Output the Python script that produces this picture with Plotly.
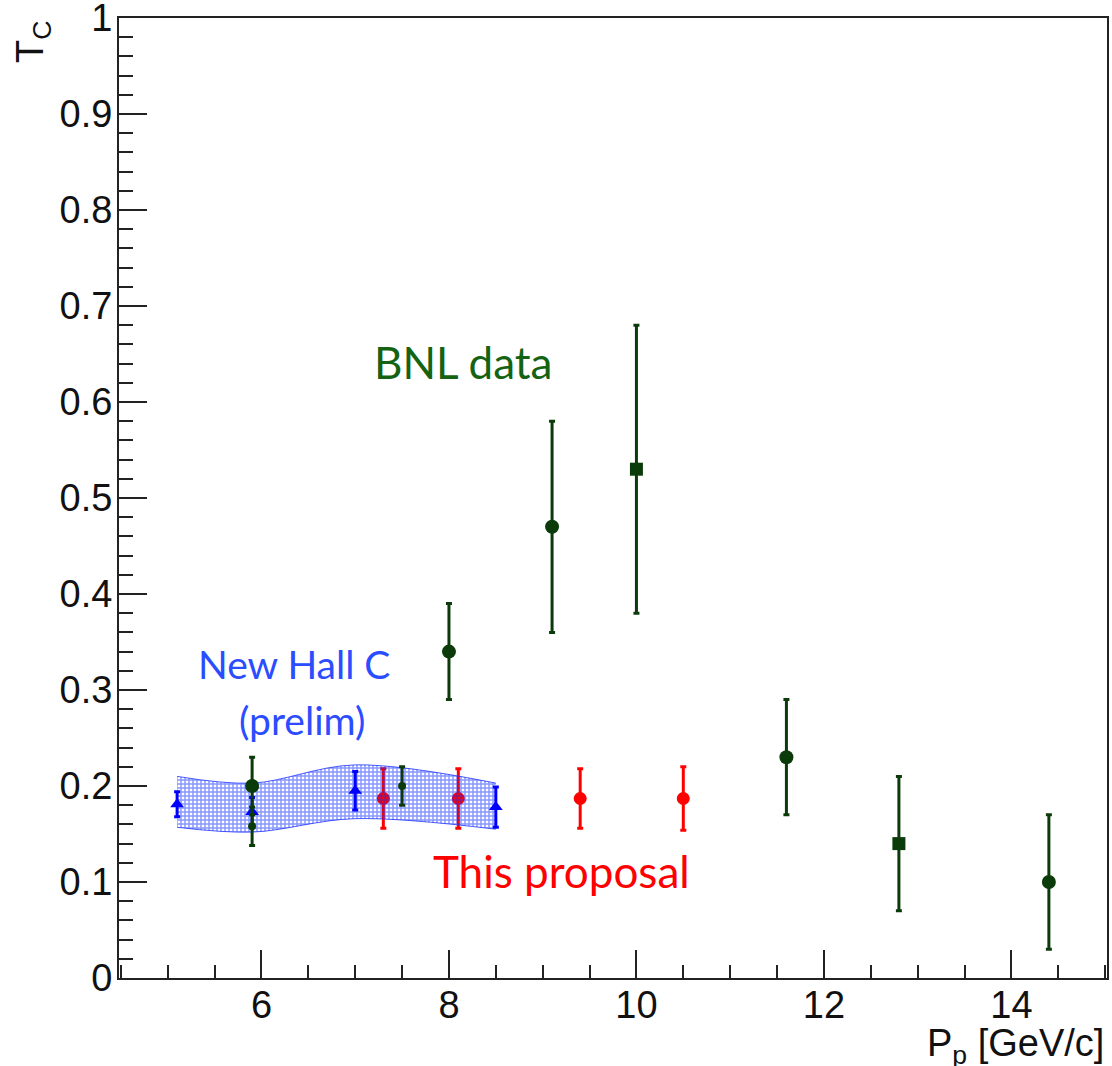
import plotly.graph_objects as go

# BNL data (circles)
bnl_x = [5.9, 8.0, 9.1, 11.6, 14.4]
bnl_y = [0.20, 0.34, 0.47, 0.23, 0.10]
bnl_err = [0.03, 0.05, 0.11, 0.06, 0.07]
# BNL data (squares)
bnlsq_x = [10.0, 12.8]
bnlsq_y = [0.53, 0.14]
bnlsq_err = [0.15, 0.07]
# small dark points
small_x = [5.9, 7.5]
small_y = [0.158, 0.20]
small_err = [0.02, 0.02]
# New Hall C (prelim)
hc_x = [5.1, 5.9, 7.0, 8.5]
hc_y = [0.181, 0.173, 0.195, 0.178]
hc_err = [0.013, 0.015, 0.02, 0.021]
# band
band_x = [5.1, 5.9, 7.0, 8.5]
band_hi = [0.210, 0.203, 0.222, 0.203]
band_lo = [0.157, 0.152, 0.166, 0.155]
# This proposal
prop_x = [7.3, 8.1, 9.4, 10.5]
prop_y = [0.187, 0.187, 0.187, 0.187]
prop_err = [0.031, 0.031, 0.031, 0.033]

# tick labels
y_tickvals = [0, 0.1, 0.2, 0.3, 0.4, 0.5, 0.6, 0.7, 0.8, 0.9, 1.0]
y_ticktext = ["0", "0.1", "0.2", "0.3", "0.4", "0.5", "0.6", "0.7", "0.8", "0.9", "1"]
x_tickvals = [6, 8, 10, 12, 14]
x_ticktext = ["6", "8", "10", "12", "14"]

GREEN = "#0b3b0b"
BLUE = "#0000ff"
RED = "#ff0000"

fig = go.Figure()

fig.add_trace(go.Scatter(
    x=prop_x, y=prop_y, mode="markers",
    marker=dict(symbol="circle", size=13, color=RED),
    error_y=dict(type="data", array=prop_err, color=RED, thickness=3, width=3),
    showlegend=False))

fig.add_trace(go.Scatter(
    x=band_x, y=band_lo, mode="lines",
    line=dict(shape="spline", width=1, color="rgba(30,50,255,0.8)"),
    showlegend=False, hoverinfo="skip"))
fig.add_trace(go.Scatter(
    x=band_x, y=band_hi, mode="lines", fill="tonexty",
    line=dict(shape="spline", width=1, color="rgba(30,50,255,0.8)"),
    fillcolor="rgba(0,0,0,0)",
    fillpattern=dict(shape="+", fgcolor="#1030ff", bgcolor="rgba(0,0,0,0)",
                     size=4, solidity=0.6),
    showlegend=False, hoverinfo="skip"))

fig.add_trace(go.Scatter(
    x=hc_x, y=hc_y, mode="markers",
    marker=dict(symbol="triangle-up", size=12, color=BLUE),
    error_y=dict(type="data", array=hc_err, color=BLUE, thickness=3, width=3),
    showlegend=False))

fig.add_trace(go.Scatter(
    x=small_x, y=small_y, mode="markers",
    marker=dict(symbol="circle", size=8, color=GREEN),
    error_y=dict(type="data", array=small_err, color=GREEN, thickness=3, width=3),
    showlegend=False))

fig.add_trace(go.Scatter(
    x=bnl_x, y=bnl_y, mode="markers",
    marker=dict(symbol="circle", size=14, color=GREEN),
    error_y=dict(type="data", array=bnl_err, color=GREEN, thickness=3, width=3),
    showlegend=False))

fig.add_trace(go.Scatter(
    x=bnlsq_x, y=bnlsq_y, mode="markers",
    marker=dict(symbol="square", size=13, color=GREEN),
    error_y=dict(type="data", array=bnlsq_err, color=GREEN, thickness=3, width=3),
    showlegend=False))

axis_font = dict(family="Liberation Sans, Arial, sans-serif", size=38, color="#111")

fig.update_xaxes(
    range=[4.48, 15.02], tickmode="array", tickvals=x_tickvals, ticktext=x_ticktext,
    ticks="inside", ticklen=28, ticklabeloverflow="allow", automargin=False,
    tickwidth=2, tickcolor="#222", showline=True, linecolor="#222", linewidth=2,
    mirror=True, showgrid=False, zeroline=False, tickfont=axis_font,
    minor=dict(dtick=0.5, tick0=0, ticks="inside", ticklen=13, tickwidth=2,
               tickcolor="#222", showgrid=False),
    ticklabelstandoff=-8)
fig.update_yaxes(
    range=[0, 1], tickmode="array", tickvals=y_tickvals, ticktext=y_ticktext,
    ticks="inside", ticklen=28, ticklabeloverflow="allow", automargin=False,
    tickwidth=2, tickcolor="#222", showline=True, linecolor="#222", linewidth=2,
    mirror=True, showgrid=False, zeroline=False, tickfont=axis_font,
    minor=dict(dtick=0.02, tick0=0, ticks="inside", ticklen=14, tickwidth=2,
               tickcolor="#222", showgrid=False),
    ticklabelstandoff=-3)

txt_font = "Lato, Open Sans, sans-serif"
annotations = [
    dict(text="BNL data", x=463, y=362, color="#136313", size=44),
    dict(text="New Hall C", x=294, y=664, color="#2b4dff", size=39),
    dict(text="(prelim)", x=302, y=720, color="#2b4dff", size=39),
    dict(text="This proposal", x=561, y=871, color=RED, size=44),
]
W, H = 1112, 1066
L, R, T, B = 119, 5, 18, 88
pw, ph = W - L - R, H - T - B
for a in annotations:
    fig.add_annotation(
        text=a["text"], xref="paper", yref="paper",
        x=(a["x"] - L) / pw, y=1 - (a["y"] - T) / ph,
        xanchor="center", yanchor="middle", showarrow=False,
        font=dict(family=txt_font, size=a["size"], color=a["color"]))

fig.add_annotation(
    text="T<sub>C</sub>", xref="paper", yref="paper",
    x=(33 - L) / pw, y=1 - (42 - T) / ph, xanchor="center", yanchor="middle",
    textangle=-90, showarrow=False, font=axis_font)
fig.add_annotation(
    text="P<sub>p</sub> [GeV/c]", xref="paper", yref="paper",
    x=(1106 - L) / pw, y=1 - (1046 - T) / ph, xanchor="right", yanchor="middle",
    showarrow=False, font=axis_font)

fig.update_layout(
    width=W, height=H, margin=dict(l=L, r=R, t=T, b=B, autoexpand=False),
    plot_bgcolor="white", paper_bgcolor="white")

fig.write_html("out.html")
